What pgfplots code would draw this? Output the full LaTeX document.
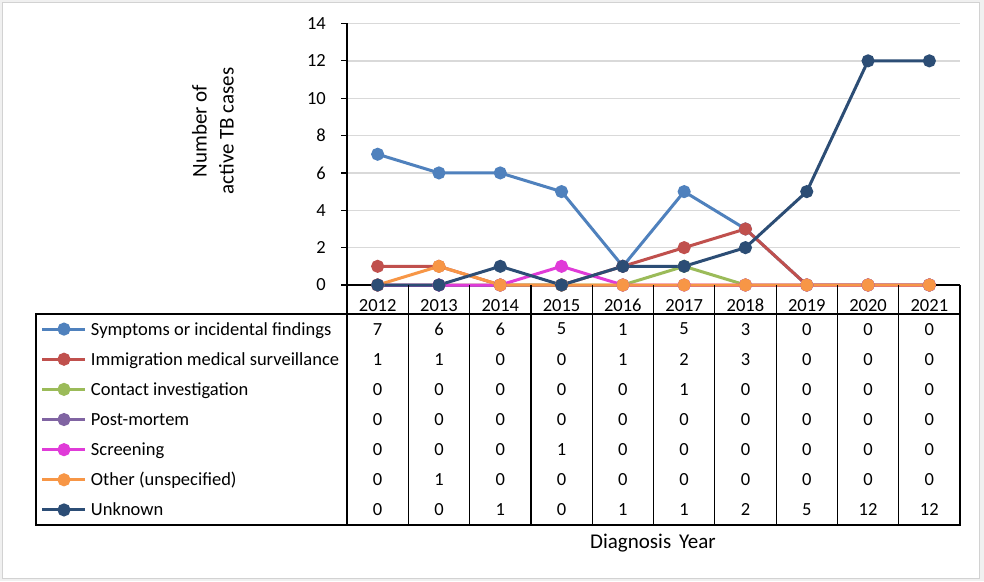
\documentclass[border=0pt]{standalone}
\usepackage{pgfplots}
\pgfplotsset{compat=1.18}
\usepackage{pgfplotstable}
\usepackage{fontspec}
\setmainfont{Carlito}
\definecolor{cSym}{HTML}{4F81BD}
\definecolor{cImm}{HTML}{C0504D}
\definecolor{cCon}{HTML}{9BBB59}
\definecolor{cPost}{HTML}{8064A2}
\definecolor{cScr}{HTML}{E03BD8}
\definecolor{cOth}{HTML}{F79646}
\definecolor{cUnk}{HTML}{2C4D75}
\definecolor{gridc}{HTML}{D9D9D9}
\pgfplotstableread{
year s1 s2 s3 s4 s5 s6 s7
2012 7 1 0 0 0 0 0
2013 6 1 0 0 0 1 0
2014 6 0 0 0 0 0 1
2015 5 0 0 0 1 0 0
2016 1 1 0 0 0 0 1
2017 5 2 1 0 0 0 1
2018 3 3 0 0 0 0 2
2019 0 0 0 0 0 0 5
2020 0 0 0 0 0 0 12
2021 0 0 0 0 0 0 12
}\data
\begin{document}
\begin{tikzpicture}[x=1pt, y=1pt, font=\fontsize{18.5}{22}\selectfont]
\fill[gray!12] (0,0) rectangle (984,581);
\filldraw[fill=white, draw=gray!35, line width=0.8pt] (2,3) rectangle (979,579);
\begin{axis}[
  at={(347pt,296pt)}, anchor=south west,
  scale only axis, width=613pt, height=261.5pt,
  xmin=-0.5, xmax=9.5, ymin=0, ymax=14,
  ytick={0,2,...,14},
  xtick={0,...,9},
  xticklabels={2012,2013,2014,2015,2016,2017,2018,2019,2020,2021},
  xtick style={draw=none},
  xticklabel style={anchor=center, yshift=-14.5pt, inner sep=0pt},
  yticklabel style={anchor=east, inner sep=0pt, xshift=-15pt},
  /pgf/number format/assume math mode=true,
  axis lines*=left,
  axis line style={-, black, line width=1.2pt},
  ymajorgrids, grid style={gridc, line width=1.3pt},
  tick align=outside, major tick length=6pt,
  y tick style={black, line width=1.2pt},
  clip=false,
  every axis plot/.append style={line width=3pt, mark=*, mark size=5pt},
  legend style={at={(axis description cs:-0.49918,-0.1109)}, anchor=north west,
    draw=none, fill=none, inner sep=0pt, outer sep=0pt, row sep=0pt, column sep=4pt,
    nodes={inner sep=0pt, outer sep=0pt, text height=21pt, text depth=9.14pt, anchor=base west}},
  legend cell align=left,
  legend image code/.code={\draw[mark repeat=2, mark phase=2, #1] plot coordinates {(0pt,5.9pt) (21.5pt,5.9pt) (43pt,5.9pt)};},
]
\addplot[cSym, mark options={fill=cSym, draw=cSym}] table[x expr=\coordindex, y=s1] {\data};
\addlegendentry{Symptoms or incidental findings}
\addplot[cImm, mark options={fill=cImm, draw=cImm}] table[x expr=\coordindex, y=s2] {\data};
\addlegendentry{Immigration medical surveillance}
\addplot[cCon, mark options={fill=cCon, draw=cCon}] table[x expr=\coordindex, y=s3] {\data};
\addlegendentry{Contact investigation}
\addplot[cPost, mark options={fill=cPost, draw=cPost}] table[x expr=\coordindex, y=s4] {\data};
\addlegendentry{Post-mortem}
\addplot[cScr, mark options={fill=cScr, draw=cScr}] table[x expr=\coordindex, y=s5] {\data};
\addlegendentry{Screening}
\addplot[cOth, mark options={fill=cOth, draw=cOth}] table[x expr=\coordindex, y=s6] {\data};
\addlegendentry{Other (unspecified)}
\addplot[cUnk, mark options={fill=cUnk, draw=cUnk}] table[x expr=\coordindex, y=s7] {\data};
\addlegendentry{Unknown}
\end{axis}
% data table grid
\draw[black, line width=1.2pt] (36,267) rectangle (960,56);
\foreach \k in {0,...,10} {
  \draw[black, line width=1.2pt] ({347+61.3*\k},296) -- ({347+61.3*\k},56);
}
\foreach \c in {0,...,9} {
  \foreach \r in {1,...,7} {
    \pgfplotstablegetelem{\c}{s\r}\of\data
    \node[inner sep=0pt] at ({347+61.3*(\c+0.5)}, {581-(314+30.14*(\r-0.5))}) {\pgfplotsretval};
  }
}
\node[rotate=90, align=center, font=\fontsize{21}{27}\selectfont] at (213,450) {Number of\\active TB cases};
\node[font=\fontsize{21}{25}\selectfont] at (653,38) {Diagnosis\hspace{8pt}Year};
\end{tikzpicture}
\end{document}
